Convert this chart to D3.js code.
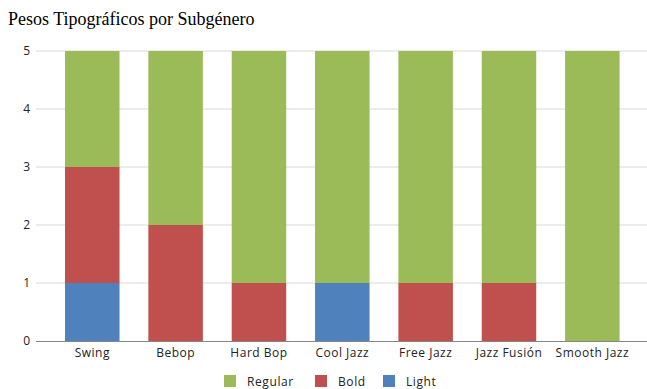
<!DOCTYPE html>
<html>
<head>
<meta charset="utf-8">
<script src="https://cdn.jsdelivr.net/npm/d3@7"></script>
<style>
  html, body { margin: 0; padding: 0; background: #fff; }
  svg { display: block; }
</style>
</head>
<body>
<svg id="chart" width="647" height="389"></svg>
<script>
// Subgenres along the x axis
const categories = ["Swing", "Bebop", "Hard Bop", "Cool Jazz", "Free Jazz", "Jazz Fusión", "Smooth Jazz"];
// Count of each typographic weight per subgenre
const light   = [1, 0, 0, 1, 0, 0, 0];
const bold    = [2, 2, 1, 0, 1, 1, 0];
const regular = [2, 3, 4, 4, 4, 4, 5];
const yTicks  = [0, 1, 2, 3, 4, 5];

const seriesDefs = [
  { key: "Light",   values: light,   color: "#4f81bd" },
  { key: "Bold",    values: bold,    color: "#c0504d" },
  { key: "Regular", values: regular, color: "#9bbb59" }
];

const svg = d3.select("#chart");
const labelFont = "'Open Sans', 'Liberation Sans', sans-serif";

const x = d3.scaleBand().domain(categories).range([50.6, 634]).paddingInner(0.346).paddingOuter(0.173);
const y = d3.scaleLinear().domain([0, 5]).range([341, 51]);

// Title
svg.append("text")
  .attr("x", 8).attr("y", 25)
  .attr("font-family", "'Liberation Serif', 'Times New Roman', serif")
  .attr("font-size", 18)
  .attr("fill", "#000")
  .text("Pesos Tipográficos por Subgénero");

// Horizontal gridlines
svg.append("g").selectAll("line").data(yTicks.filter(t => t > 0)).join("line")
  .attr("x1", 36).attr("x2", 647)
  .attr("y1", d => y(d)).attr("y2", d => y(d))
  .attr("stroke", "#d9d9d9").attr("stroke-width", 1);

// Y axis labels
const yAxis = d3.axisLeft(y).tickValues(yTicks).tickSize(0).tickPadding(0).tickFormat(d3.format("d"));
const yG = svg.append("g").attr("transform", "translate(30,0)").call(yAxis);
yG.select(".domain").remove();
yG.selectAll("text").attr("font-family", labelFont).attr("font-size", 12).attr("fill", "#222");

// Stacked bars
const rows = categories.map((c, i) => {
  const r = { cat: c };
  seriesDefs.forEach(s => r[s.key] = s.values[i]);
  return r;
});
const stack = d3.stack().keys(seriesDefs.map(s => s.key));
const stacked = stack(rows);

svg.append("g").selectAll("g").data(stacked).join("g")
  .attr("fill", (d, i) => seriesDefs[i].color)
  .selectAll("rect").data(d => d.filter(p => p[1] > p[0])).join("rect")
  .attr("x", d => x(d.data.cat))
  .attr("width", x.bandwidth())
  .attr("y", d => y(d[1]))
  .attr("height", d => y(d[0]) - y(d[1]));

// X axis baseline and labels
svg.append("line")
  .attr("x1", 36).attr("x2", 647)
  .attr("y1", y(0) + 0.5).attr("y2", y(0) + 0.5)
  .attr("stroke", "#868686").attr("stroke-width", 1);

const xAxis = d3.axisBottom(x).tickSize(0).tickPadding(0);
const xG = svg.append("g").attr("transform", `translate(0,${y(0) + 5})`).call(xAxis);
xG.select(".domain").remove();
xG.selectAll("text").attr("font-family", labelFont).attr("font-size", 12).attr("fill", "#222")
  .attr("letter-spacing", 0.5).attr("dy", "0.9em");

// Legend
const legendItems = [
  { key: "Regular", color: "#9bbb59", x: 224 },
  { key: "Bold",    color: "#c0504d", x: 315 },
  { key: "Light",   color: "#4f81bd", x: 383 }
];
const lg = svg.append("g").selectAll("g").data(legendItems).join("g")
  .attr("transform", d => `translate(${d.x},375)`);
lg.append("rect").attr("width", 12).attr("height", 12).attr("fill", d => d.color);
lg.append("text")
  .attr("x", 23).attr("y", 10.5)
  .attr("font-family", labelFont).attr("font-size", 12).attr("fill", "#222")
  .attr("letter-spacing", 0.6)
  .text(d => d.key);
</script>
</body>
</html>
